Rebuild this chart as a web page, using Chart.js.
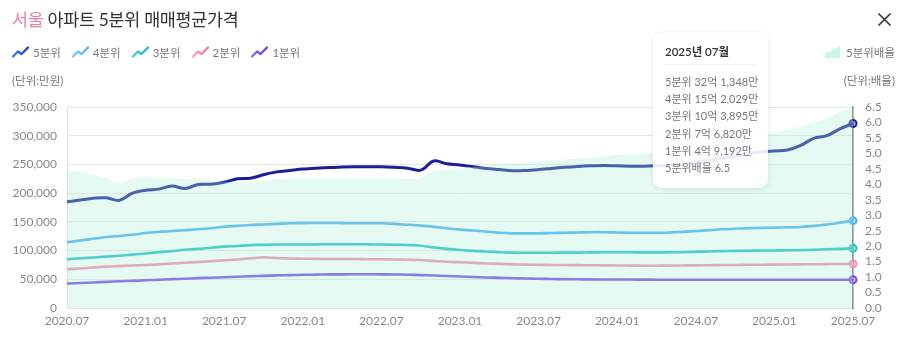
<!DOCTYPE html>
<html><head><meta charset="utf-8">
<script src="https://cdn.jsdelivr.net/npm/chart.js@4.4.1/dist/chart.umd.min.js"></script>
<style>
html,body{margin:0;padding:0;background:#fff;width:918px;height:357px;overflow:hidden;font-family:Lato,"Noto Sans CJK KR",sans-serif;}
#wrap{position:relative;width:918px;height:357px;}
canvas{position:absolute;left:0;top:0;}
.title{position:absolute;left:12px;top:6px;font-size:17.4px;color:#333;white-space:nowrap;letter-spacing:-0.3px;}
.title .pk{color:#f27aa0;}
.legend{position:absolute;left:12px;top:44px;height:16px;display:flex;align-items:center;font-size:11.5px;color:#777;}
.li{display:flex;align-items:center;margin-right:11px;}
.li svg{margin-right:4px;}
.unitL{position:absolute;left:12px;top:72px;font-size:11.5px;color:#777;}
.unitR{position:absolute;right:23px;top:72px;font-size:11.5px;color:#777;}
.legR{position:absolute;right:23px;top:44px;display:flex;align-items:center;font-size:11.5px;color:#777;}
.legR svg{margin-right:6px;}
.close{position:absolute;left:877px;top:12px;}
#tip{position:absolute;left:653px;top:33px;width:115px;height:155px;background:rgba(255,255,255,0.88);border-radius:9px;box-shadow:0 1px 6px rgba(0,0,0,0.10);box-sizing:border-box;padding:10px 12px 0 12px;}
#tip .tt{font-size:11.5px;color:#333;font-weight:600;height:21px;line-height:18px;border-bottom:1px solid #eee;margin-bottom:8px;}
#tip .row{font-size:11px;color:#777;line-height:17.2px;white-space:nowrap;}
</style></head>
<body><div id="wrap">
<canvas id="c" width="918" height="357"></canvas>
<div class="title"><span class="pk">서울</span> 아파트 5분위 매매평균가격</div>
<div class="legend" id="legend"></div>
<div class="unitL">(단위:만원)</div>
<div class="legR"><svg width="15" height="12" viewBox="0 0 15 12"><path d="M0 12 L0 7 L5 6 L9 3 L12 2 L15 0 L15 12 Z" fill="#c9f5e4"/></svg>5분위배율</div>
<div class="unitR">(단위:배율)</div>
<svg class="close" width="15" height="15" viewBox="0 0 15 15"><path d="M1.5 1.5 L13.5 13.5 M13.5 1.5 L1.5 13.5" stroke="#333" stroke-width="1.6" fill="none"/></svg>
<div id="tip"></div>
</div>
<script>
const categories = ['2020.07','2020.08','2020.09','2020.10','2020.11','2020.12','2021.01','2021.02','2021.03','2021.04','2021.05','2021.06','2021.07','2021.08','2021.09','2021.10','2021.11','2021.12','2022.01','2022.02','2022.03','2022.04','2022.05','2022.06','2022.07','2022.08','2022.09','2022.10','2022.11','2022.12','2023.01','2023.02','2023.03','2023.04','2023.05','2023.06','2023.07','2023.08','2023.09','2023.10','2023.11','2023.12','2024.01','2024.02','2024.03','2024.04','2024.05','2024.06','2024.07','2024.08','2024.09','2024.10','2024.11','2024.12','2025.01','2025.02','2025.03','2025.04','2025.05','2025.06','2025.07'];
const xTickLabels = ['2020.07','2021.01','2021.07','2022.01','2022.07','2023.01','2023.07','2024.01','2024.07','2025.01','2025.07'];
const q5 = [185000,188000,191000,192000,187500,200000,205000,207000,212500,208000,215000,215500,219000,225000,226000,232000,237000,239500,242000,243500,244500,245500,246000,246000,246000,245000,243500,240000,256000,251000,249000,246000,243000,241000,239000,239500,241000,243000,245000,246500,247500,248000,247500,247000,247000,247500,248500,250000,253000,257000,261000,265000,268500,271500,273500,275000,283000,295500,300000,312000,321348];
const q4 = [114600,117500,120500,123500,125500,127500,130500,132500,134000,135500,137000,139000,141500,143000,144500,145500,146500,147500,147800,148000,148000,147800,147500,147500,147500,146500,145000,143500,141500,139000,136500,135000,133000,131000,130000,130000,130000,130500,131000,131500,132000,132000,131500,131000,131000,131000,131500,132500,134000,135500,137000,138000,139000,139500,140000,140500,141000,143000,145500,148500,152029];
const q3 = [84800,86500,88000,89500,91000,93000,95000,97000,99000,101500,103000,105000,106800,108000,109500,110000,110500,110500,110500,110800,111000,111000,111000,110800,110500,110200,109800,108500,105500,103000,101000,99500,98500,97000,96400,96300,96300,96300,96400,96500,96800,97000,97000,97000,96800,96800,97000,97200,97800,98500,99000,99500,99800,100000,100200,100500,100800,101500,102300,103000,103895];
const q2 = [67400,68800,70500,72000,73000,74000,75000,76000,77500,78800,80000,81500,83000,84500,86500,88300,87000,86300,85800,85500,85300,85200,85200,85000,84800,84500,84000,83500,82000,80500,79600,78600,77600,76800,76000,75500,75200,75000,74800,74600,74500,74300,74000,73800,73700,73700,73800,74000,74300,74500,74800,75000,75200,75400,75600,75800,76000,76200,76400,76600,76820];
const q1 = [42500,43500,44500,45500,46500,47300,48200,49200,50200,51000,52000,52800,53500,54300,55200,56000,56800,57300,57800,58200,58500,58600,58700,58700,58600,58400,58000,57300,56500,55600,54800,54000,53200,52500,51800,51300,50900,50500,50200,50000,49800,49700,49600,49500,49400,49300,49300,49200,49200,49200,49200,49200,49200,49200,49200,49200,49200,49200,49200,49200,49192];
const ratio = [4.41,4.40,4.30,4.20,4.03,4.20,4.22,4.20,4.20,4.16,4.14,4.10,4.08,4.06,4.05,4.10,4.16,4.18,4.20,4.20,4.20,4.20,4.20,4.20,4.20,4.19,4.18,4.19,4.45,4.48,4.52,4.56,4.60,4.63,4.66,4.70,4.74,4.77,4.80,4.83,4.86,4.90,4.95,4.98,5.00,5.00,5.02,5.07,5.13,5.20,5.30,5.38,5.46,5.58,5.66,5.76,5.87,6.00,6.14,6.35,6.5];
const seriesNames = ['5분위','4분위','3분위','2분위','1분위'];
const ratioName = '5분위배율';
const lineColors = ['#1b1f96','#4aaef5','#22bfc8','#f58cae','#7a48e8'];
const pointFills = ['rgba(27,31,150,0.35)','rgba(74,174,245,0.35)','rgba(34,191,200,0.35)','rgba(245,140,174,0.35)','rgba(122,72,232,0.35)'];
const legendColors = [['#3d7bf0','#2339b8'],['#7cc8f7','#56b3f2'],['#48d0d0','#22b3c0'],['#f7a3c0','#f07aa2'],['#8c6af0','#6a3fe0']];

const lg = document.getElementById('legend');
seriesNames.forEach((n,i)=>{
  const d=document.createElement('div');d.className='li';
  d.innerHTML=`<svg width="17" height="12" viewBox="0 0 17 12"><defs><linearGradient id="g${i}" x1="0" x2="1" y1="0" y2="0"><stop offset="0" stop-color="${legendColors[i][0]}"/><stop offset="1" stop-color="${legendColors[i][1]}"/></linearGradient></defs><path d="M1 10.5 L6 5.5 L9.5 8 L16 1.5" stroke="url(#g${i})" stroke-width="2.4" fill="none" stroke-linecap="round" stroke-linejoin="round"/></svg>${n}`;
  lg.appendChild(d);
});

const all = [q5,q4,q3,q2,q1];
const last = categories.length-1;
function fmt(v){const e=Math.floor(v/10000), m=v%10000; return e+'억 '+m.toLocaleString('en-US')+'만';}
const lbl = categories[last].split('.');
let html = `<div class="tt">${lbl[0]}년 ${lbl[1]}월</div>`;
seriesNames.forEach((n,i)=>{html+=`<div class="row">${n} ${fmt(all[i][last])}</div>`;});
html += `<div class="row">${ratioName} ${ratio[last]}</div>`;
document.getElementById('tip').innerHTML = html;

const ptR = ctx => ctx.dataIndex===last ? 3.5 : 0;
const datasets = [{
  label: ratioName, data: ratio, yAxisID:'y1', fill:'origin',
  backgroundColor:'rgba(172,240,214,0.32)', borderWidth:0, pointRadius:0, tension:0.35
}];
seriesNames.forEach((n,i)=>{
  datasets.push({label:n,data:all[i],yAxisID:'y',borderColor:lineColors[i],backgroundColor:pointFills[i],
    borderWidth: i===0?3:2.6, pointRadius:ptR, pointBorderWidth:2, pointBorderColor:lineColors[i],
    tension:0.35, fill:false});
});

Chart.defaults.font.family = 'Lato, "Noto Sans CJK KR", sans-serif';
new Chart(document.getElementById('c'),{
  type:'line',
  data:{labels:categories,datasets},
  options:{
    responsive:false, animation:false, events:[],
    layout:{padding:{top:107,bottom:19,left:0,right:0}},
    plugins:{legend:{display:false},tooltip:{enabled:false},title:{display:false}},
    scales:{
      x:{grid:{display:false,drawTicks:false},border:{color:'#e2e2e2'},
        afterFit:s=>{s.height=30;},
        ticks:{autoSkip:false,maxRotation:0,padding:6,color:'#888',font:{size:12},
          callback:function(v,i){const l=categories[i];return xTickLabels.includes(l)?l:'';}}},
      y:{position:'left',min:0,max:350000,afterFit:s=>{s.width=67;},
        grid:{color:'#e6e6e6',drawTicks:false},border:{color:'#e2e2e2'},
        ticks:{stepSize:50000,padding:10,color:'#888',font:{size:12},callback:v=>v.toLocaleString('en-US')}},
      y1:{position:'right',min:0,max:6.5,afterFit:s=>{s.width=65;},
        grid:{display:false,drawTicks:false},border:{color:'#777',width:1.5},
        ticks:{stepSize:0.5,autoSkip:false,padding:12,color:'#888',font:{size:12},callback:v=>v.toFixed(1)}}
    }
  }
});
</script>
</body></html>
